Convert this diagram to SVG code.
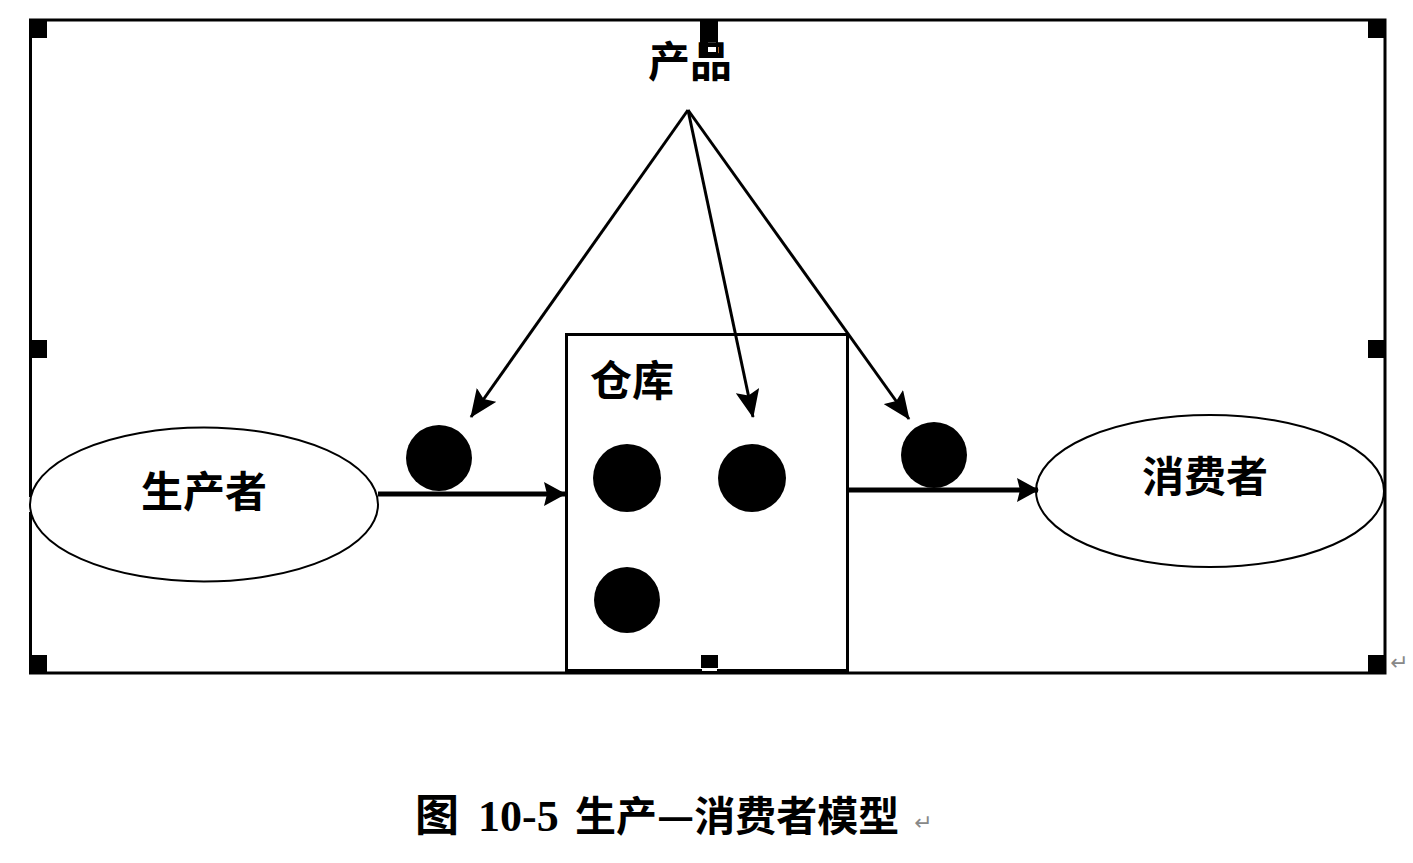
<svg xmlns="http://www.w3.org/2000/svg" width="1413" height="863" viewBox="0 0 1413 863">
<style>
.frame{fill:none;stroke:#000;stroke-width:3}
.handle{fill:#000}
.node{fill:#fff;stroke:#000;stroke-width:2}
.ball{fill:#000}
.lbl{font-family:"Noto Sans CJK SC","Noto Sans CJK TC",sans-serif;font-weight:bold;fill:#000;text-anchor:middle}
.flow{stroke:#000;stroke-width:5;fill:none;marker-end:url(#headFlow)}
.prod{stroke:#000;stroke-width:3;fill:none;marker-end:url(#headProd)}
.mark{font-family:"DejaVu Sans",sans-serif;fill:#888;font-size:22px}
</style>
<defs>
<marker id="headFlow" markerUnits="userSpaceOnUse" markerWidth="22" markerHeight="24" refX="21" refY="12" orient="auto">
<path d="M0,0 L22,12 L0,24 L3,12 Z" fill="#000"/>
</marker>
<marker id="headProd" markerUnits="userSpaceOnUse" markerWidth="28" markerHeight="24" refX="27" refY="12" orient="auto">
<path d="M0,0 L28,12 L0,24 L5,12 Z" fill="#000"/>
</marker>
</defs>
<rect width="1413" height="863" fill="#fff"/>

<g id="frame">
<path class="frame" d="M30.5,497 V20 H1385 V673 H29"/>
<path class="frame" d="M30.5,512 V674"/>
<rect class="handle" x="29" y="19" width="18" height="19"/>
<rect class="handle" x="1368" y="19" width="18" height="19"/>
<rect class="handle" x="30" y="340" width="17" height="18"/>
<rect class="handle" x="1368" y="340" width="17" height="18"/>
<rect class="handle" x="29" y="655" width="18" height="18"/>
<rect class="handle" x="1368" y="655" width="18" height="18"/>
<rect class="handle" x="700" y="19" width="18" height="36"/>
<rect x="708" y="42" width="8" height="10" fill="#fff"/>
</g>

<g id="warehouse">
<rect x="566.5" y="334.5" width="281" height="336" fill="#fff" stroke="#000" stroke-width="3"/>
<text class="lbl" x="632" y="396" font-size="42">仓库</text>
<circle class="ball" cx="627" cy="478" r="34"/>
<circle class="ball" cx="752" cy="478" r="34"/>
<circle class="ball" cx="627" cy="600" r="33"/>
</g>
<rect class="handle" x="701" y="655" width="17" height="13"/>
<rect x="702" y="668" width="15" height="3" fill="#fff"/>

<g id="producer">
<ellipse class="node" cx="204" cy="504.5" rx="174" ry="77"/>
<text class="lbl" x="204" y="507" font-size="42">生产者</text>
</g>

<g id="consumer">
<ellipse class="node" cx="1210" cy="491" rx="174" ry="76"/>
<text class="lbl" x="1205" y="492" font-size="42">消费者</text>
</g>

<g id="product">
<text class="lbl" x="690" y="77" font-size="42">产品</text>
</g>

<g id="item-in">
<circle class="ball" cx="439" cy="458" r="33"/>
</g>
<g id="item-out">
<circle class="ball" cx="934" cy="455" r="33"/>
</g>

<g id="connectors">
<line class="flow" x1="378" y1="494" x2="565" y2="494"/>
<line class="flow" x1="848" y1="490" x2="1038" y2="490"/>
<line class="prod" x1="688" y1="110" x2="471" y2="417" stroke-width="2.5"/>
<line class="prod" x1="688" y1="110" x2="753" y2="417"/>
<line class="prod" x1="688" y1="110" x2="909" y2="419"/>
</g>

<text class="mark" x="1390" y="670">↵</text>

<g id="caption">
<text font-family="'Noto Sans CJK SC',sans-serif" font-weight="bold" font-size="44" fill="#000" y="831"><tspan x="415">图</tspan><tspan x="478" font-family="'Liberation Serif',serif" font-size="44">10-5</tspan><tspan x="575" font-size="41">生产—消费者模型</tspan></text>
<text class="mark" x="914" y="830">↵</text>
</g>
</svg>
